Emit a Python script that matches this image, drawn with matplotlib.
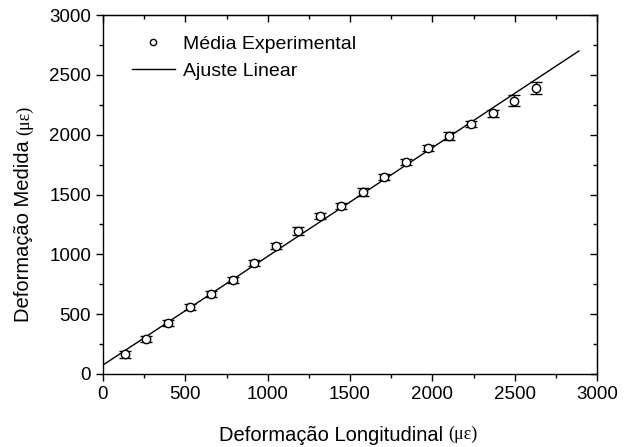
import numpy as np
import matplotlib.pyplot as plt
from matplotlib.ticker import MultipleLocator

plt.rcParams["font.family"] = ["Liberation Sans", "DejaVu Sans"]

# experimental means
long_strain = [131, 263, 394, 526, 657, 789, 920, 1052, 1183, 1315,
               1446, 1578, 1709, 1841, 1972, 2104, 2235, 2367, 2498, 2630]
measured = [165, 292, 426, 560, 669, 786, 928, 1070, 1195, 1320,
            1404, 1521, 1646, 1772, 1889, 1989, 2089, 2180, 2285, 2390]
err = [30, 28, 25, 28, 25, 25, 28, 28, 30, 25,
       28, 30, 25, 28, 25, 30, 28, 30, 45, 50]

# linear fit
fit_x = [0, 2890]
fit_slope = 0.908
fit_intercept = 75


def main():
    fig = plt.figure(figsize=(6.25, 4.47), dpi=100)
    ax = fig.add_axes([103 / 625, 1 - 374 / 447, 494 / 625, 359 / 447])

    xs = np.array(fit_x)
    ax.plot(xs, fit_slope * xs + fit_intercept, color="black", lw=1.0,
            label="Ajuste Linear", zorder=2)
    ax.errorbar(long_strain, measured, yerr=err, fmt="o", mfc="white",
                mec="black", ms=6.0, mew=1.0, ecolor="black", elinewidth=1.0,
                capsize=4.3, capthick=1.0, zorder=3)
    # legend proxy for the small marker
    ax.plot([], [], "o", mfc="white", mec="black", ms=4.5, mew=1.0,
            label="Média Experimental")

    ax.set_xlim(0, 3000)
    ax.set_ylim(0, 3000)
    ax.xaxis.set_major_locator(MultipleLocator(500))
    ax.yaxis.set_major_locator(MultipleLocator(500))
    ax.xaxis.set_minor_locator(MultipleLocator(250))
    ax.yaxis.set_minor_locator(MultipleLocator(250))
    ax.tick_params(which="both", labelsize=13.5, color="black", width=1.0)
    ax.tick_params(which="major", length=5)
    ax.tick_params(which="minor", length=3)
    ax.tick_params(axis="both", which="both", direction="out")
    for s in ax.spines.values():
        s.set_linewidth(1.0)

    # inward ticks on top and right
    for side in ("top", "right"):
        sec = ax.secondary_xaxis(side) if side == "top" else ax.secondary_yaxis(side)
        axis = sec.xaxis if side == "top" else sec.yaxis
        axis.set_major_locator(MultipleLocator(500))
        axis.set_minor_locator(MultipleLocator(250))
        sec.tick_params(which="both", direction="in", labelleft=False,
                        labelright=False, labeltop=False, labelbottom=False,
                        width=1.0)
        sec.tick_params(which="major", length=5)
        sec.tick_params(which="minor", length=3)

    handles, labels = ax.get_legend_handles_labels()
    ax.legend(handles[::-1], labels[::-1], loc="upper left", frameon=False,
              fontsize=14, handlelength=2.2, labelspacing=0.45,
              bbox_to_anchor=(0.035, 0.975), handletextpad=0.4,
              borderaxespad=0.2)

    ax.set_xlabel("Deformação Longitudinal", fontsize=14.5, labelpad=17)
    ax.set_ylabel("Deformação Medida", fontsize=14.5, labelpad=12)
    ax.xaxis.label.set_x(0.4615)
    ax.yaxis.label.set_y(0.398)

    fig.canvas.draw()
    r = fig.canvas.get_renderer()
    inv = fig.transFigure.inverted()
    xb = inv.transform(ax.xaxis.label.get_window_extent(r))
    fig.text(xb[1, 0] + 0.008, xb[0, 1] + 0.006, "(\u03bc\u03b5)", fontsize=13,
             family=["Liberation Serif", "DejaVu Serif"], ha="left", va="bottom")
    yb = inv.transform(ax.yaxis.label.get_window_extent(r))
    fig.text(yb[0, 0] + 0.004, yb[1, 1] + 0.012, "(\u03bc\u03b5)", fontsize=13,
             family=["Liberation Serif", "DejaVu Serif"], rotation=90,
             ha="left", va="bottom")

    fig.savefig("out.png", dpi=100)


if __name__ == "__main__":
    main()
